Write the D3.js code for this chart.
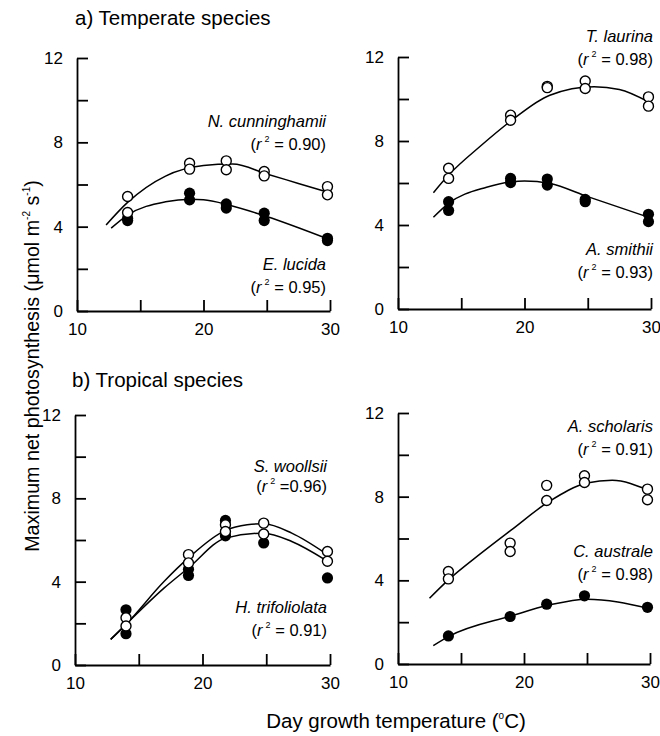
<!DOCTYPE html>
<html>
<head>
<meta charset="utf-8">
<script src="https://cdn.jsdelivr.net/npm/d3@7"></script>
<style>
  body { margin: 0; background: #fff; }
  svg { font-family: "Liberation Sans", Arial, sans-serif; }
  .axis path, .axis line { stroke: #000; stroke-width: 1.8; }
  .axis text { font-size: 17px; fill: #000; }
</style>
</head>
<body>
<div id="chart"></div>
<script>
// measured replicates: [temperature, photosynthesis]
const nCunninghamii = [[14,5.43],[14,4.67],[18.9,7.01],[18.9,6.73],[21.8,7.12],[21.8,6.70],[24.8,6.62],[24.8,6.41],[29.8,5.90],[29.8,5.51]];
const eLucida = [[14,4.29],[14,4.40],[18.9,5.59],[18.9,5.27],[21.8,5.08],[21.8,4.88],[24.8,4.64],[24.8,4.29],[29.8,3.45],[29.8,3.34]];
const tLaurina = [[14,6.70],[14,6.22],[18.9,9.23],[18.9,8.99],[21.8,10.60],[21.8,10.54],[24.8,10.86],[24.8,10.50],[29.8,10.10],[29.8,9.66]];
const aSmithii = [[14,5.11],[14,4.69],[18.9,6.22],[18.9,6.02],[21.8,6.19],[21.8,5.90],[24.8,5.22],[24.8,5.11],[29.8,4.51],[29.8,4.16]];
const sWoollsii = [[14,2.27],[14,1.87],[18.9,5.30],[18.9,4.90],[21.8,6.73],[21.8,6.41],[24.8,6.81],[24.8,6.29],[29.8,5.45],[29.8,4.98]];
const hTrifoliolata = [[14,2.65],[14,1.50],[18.9,4.60],[18.9,4.30],[21.8,6.94],[21.8,6.20],[24.8,5.86],[29.8,4.18]];
const aScholaris = [[14,4.42],[14,4.07],[18.9,5.78],[18.9,5.38],[21.8,8.54],[21.8,7.82],[24.8,9.00],[24.8,8.68],[29.8,8.36],[29.8,7.85]];
const cAustrale = [[14,1.34],[18.9,2.27],[21.8,2.86],[24.8,3.26],[29.8,2.71]];

// fitted curves
const nCunninghamiiFit = [[12.3,4.08],[14,5.15],[17,6.4],[20,6.9],[22.3,6.97],[25,6.5],[27.5,6.05],[29.9,5.62]];
const eLucidaFit = [[12.7,3.93],[14,4.55],[17,5.18],[19,5.3],[20,5.28],[22,5.03],[25,4.48],[29.9,3.4]];
const tLaurinaFit = [[12.8,5.54],[14,6.38],[16.5,7.75],[19,8.99],[22,10.18],[25.5,10.58],[27.5,10.45],[29.8,9.86]];
const aSmithiiFit = [[12.8,4.37],[14,5.03],[17,5.8],[19,6.06],[20,6.09],[22,5.98],[25,5.35],[29.8,4.37]];
const sWoollsiiFit = [[12.8,1.23],[14,1.95],[17,4.02],[18.9,5.14],[21.8,6.46],[23.5,6.73],[24.8,6.78],[27,6.33],[29.6,5.38]];
const hTrifoliolataFit = [[12.8,1.23],[14,1.95],[17,3.7],[18.9,4.66],[21.8,6.09],[24.8,6.33],[27,5.93],[29.6,5.06]];
const aScholarisFit = [[12.5,3.14],[14,4.02],[16.5,5.25],[19,6.41],[22,7.77],[25,8.65],[27,8.78],[29.9,8.3]];
const cAustraleFit = [[12.8,0.88],[14,1.31],[19,2.3],[22,2.82],[25,3.1],[29.9,2.66]];

const xTicks = [10, 15, 20, 25, 30];
const xLabels = [10, 20, 30];
const yTicks = [0, 2, 4, 6, 8, 10, 12];
const yLabels = [0, 4, 8, 12];

const width = 660, height = 736;
const svg = d3.select("#chart").append("svg")
  .attr("width", width).attr("height", height);

// panel boxes in pixels: left, right, top, bottom
const panels = [
  {x0: 77, x1: 330, y0: 58, y1: 311, open: nCunninghamii, openFit: nCunninghamiiFit, filled: eLucida, filledFit: eLucidaFit,
   notes: [{name: "N. cunninghamii", r2: " = 0.90)", x: 326, y: 127}, {name: "E. lucida", r2: " = 0.95)", x: 326, y: 270}]},
  {x0: 398, x1: 651, y0: 57, y1: 309, open: tLaurina, openFit: tLaurinaFit, filled: aSmithii, filledFit: aSmithiiFit,
   notes: [{name: "T. laurina", r2: " = 0.98)", x: 653, y: 42}, {name: "A. smithii", r2: " = 0.93)", x: 653, y: 255}]},
  {x0: 75, x1: 330, y0: 415, y1: 665, open: sWoollsii, openFit: sWoollsiiFit, filled: hTrifoliolata, filledFit: hTrifoliolataFit,
   notes: [{name: "S. woollsii", r2: " =0.96)", x: 327, y: 472, gap: 20}, {name: "H. trifoliolata", r2: " = 0.91)", x: 327, y: 613}]},
  {x0: 398, x1: 650, y0: 413, y1: 664, open: aScholaris, openFit: aScholarisFit, filled: cAustrale, filledFit: cAustraleFit,
   notes: [{name: "A. scholaris", r2: " = 0.91)", x: 653, y: 432}, {name: "C. australe", r2: " = 0.98)", x: 653, y: 557}]}
];

panels.forEach(p => {
  const x = d3.scaleLinear().domain([10, 30]).range([p.x0, p.x1]);
  const y = d3.scaleLinear().domain([0, 12]).range([p.y1, p.y0]);

  svg.append("g").attr("class", "axis")
    .attr("transform", `translate(0,${p.y1})`)
    .call(d3.axisBottom(x).tickValues(xTicks).tickSizeInner(-11).tickSizeOuter(0).tickPadding(12)
      .tickFormat(d => xLabels.includes(d) ? d : ""));

  svg.append("g").attr("class", "axis")
    .attr("transform", `translate(${p.x0},0)`)
    .call(d3.axisLeft(y).tickValues(yTicks).tickSizeInner(-11).tickSizeOuter(0).tickPadding(14)
      .tickFormat(d => yLabels.includes(d) ? d : ""));

  const line = d3.line().x(d => x(d[0])).y(d => y(d[1])).curve(d3.curveMonotoneX);
  [p.openFit, p.filledFit].forEach(f => {
    svg.append("path").attr("d", line(f))
      .attr("fill", "none").attr("stroke", "#000").attr("stroke-width", 1.5);
  });

  svg.append("g").selectAll("circle").data(p.filled).join("circle")
    .attr("cx", d => x(d[0])).attr("cy", d => y(d[1])).attr("r", 5.6)
    .attr("fill", "#000");
  svg.append("g").selectAll("circle").data(p.open).join("circle")
    .attr("cx", d => x(d[0])).attr("cy", d => y(d[1])).attr("r", 5)
    .attr("fill", "#fff").attr("stroke", "#000").attr("stroke-width", 1.4);

  p.notes.forEach(n => {
    svg.append("text").attr("x", n.x).attr("y", n.y)
      .attr("text-anchor", "end").attr("font-size", 16.5).attr("font-style", "italic")
      .text(n.name);
    const t = svg.append("text").attr("x", n.x).attr("y", n.y + (n.gap || 23))
      .attr("text-anchor", "end").attr("font-size", 16.5);
    t.append("tspan").text("(");
    t.append("tspan").attr("font-style", "italic").text("r");
    t.append("tspan").attr("font-size", 9).attr("dx", 3).attr("dy", -8).text("2");
    t.append("tspan").attr("dy", 8).text(n.r2);
  });
});

svg.append("text").attr("x", 75).attr("y", 25).attr("font-size", 20.5).text("a) Temperate species");
svg.append("text").attr("x", 72).attr("y", 387).attr("font-size", 20.5).text("b) Tropical species");

const yl = svg.append("text").attr("transform", "translate(39,366) rotate(-90)")
  .attr("text-anchor", "middle").attr("font-size", 19.7);
yl.append("tspan").text("Maximum net photosynthesis (\u03bcmol m");
yl.append("tspan").attr("font-size", 10).attr("dy", -9).text("-2");
yl.append("tspan").attr("dy", 9).text(" s");
yl.append("tspan").attr("font-size", 10).attr("dy", -9).text("-1");
yl.append("tspan").attr("dy", 9).text(")");

const xl = svg.append("text").attr("x", 396).attr("y", 728)
  .attr("text-anchor", "middle").attr("font-size", 20.5);
xl.append("tspan").text("Day growth temperature (");
xl.append("tspan").attr("font-size", 10).attr("dy", -9).text("o");
xl.append("tspan").attr("dy", 9).text("C)");
</script>
</body>
</html>
